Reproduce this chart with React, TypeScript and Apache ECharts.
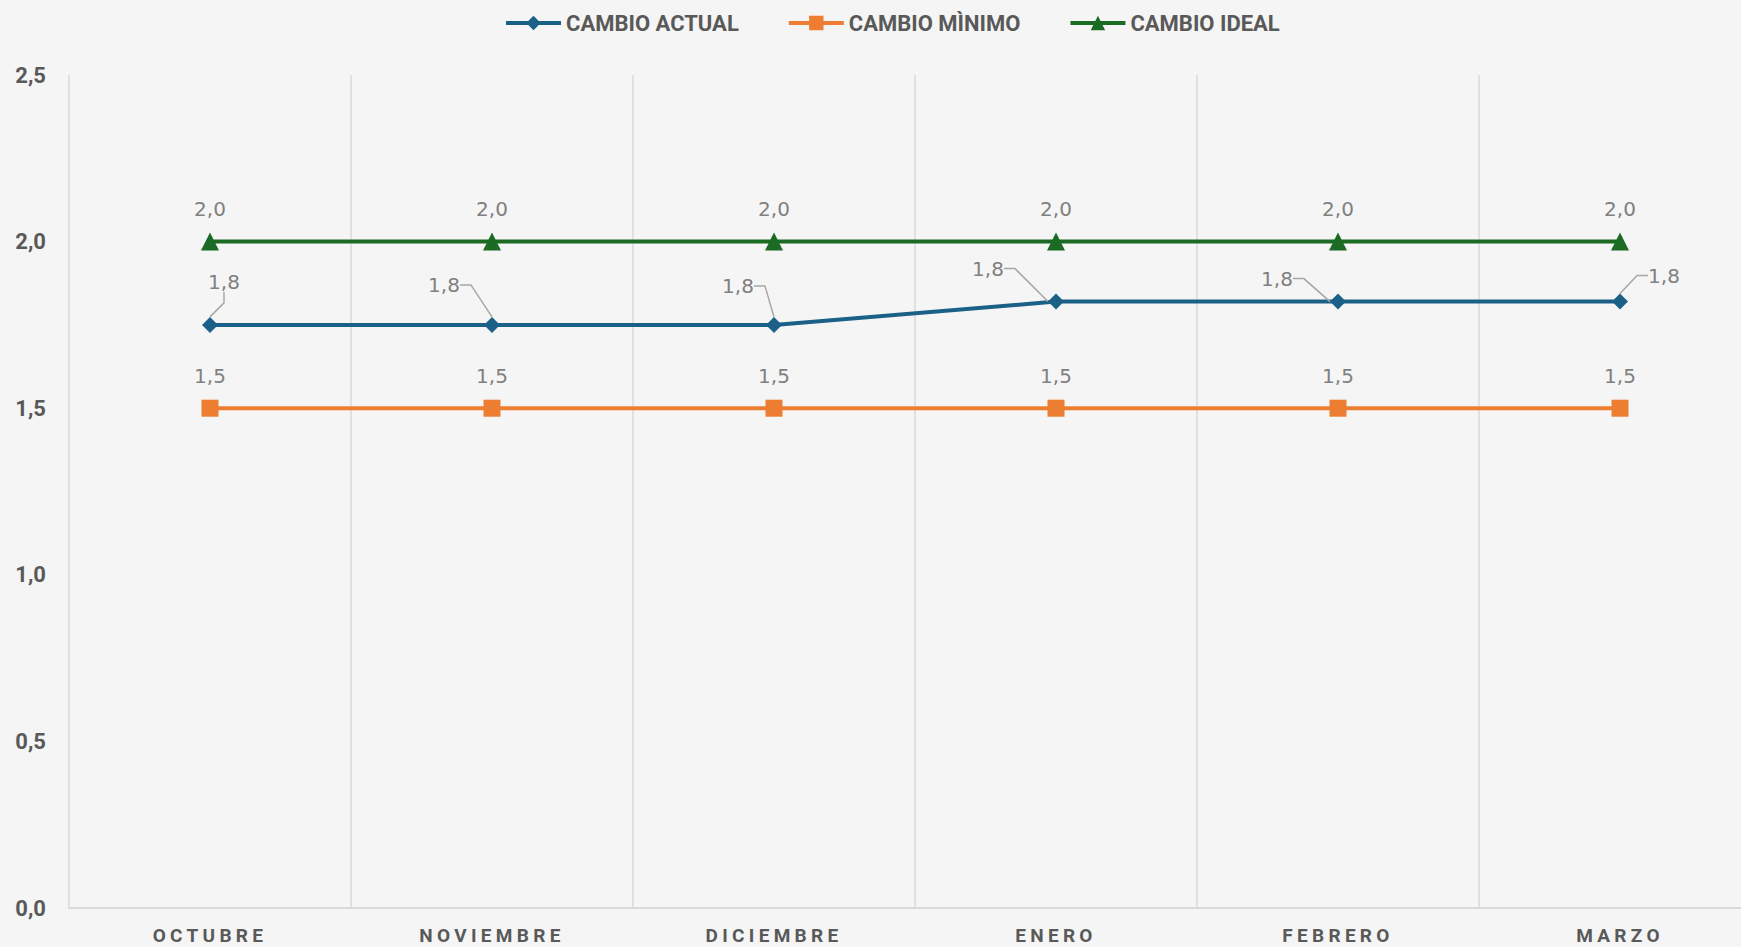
import React, { useEffect, useRef } from "react";
import * as echarts from "echarts";

const categories = ["OCTUBRE", "NOVIEMBRE", "DICIEMBRE", "ENERO", "FEBRERO", "MARZO"];
const cambioActual = [1.75, 1.75, 1.75, 1.82, 1.82, 1.82];
const cambioMinimo = [1.5, 1.5, 1.5, 1.5, 1.5, 1.5];
const cambioIdeal = [2.0, 2.0, 2.0, 2.0, 2.0, 2.0];
const seriesNames = ["CAMBIO ACTUAL", "CAMBIO MÌNIMO", "CAMBIO IDEAL"];
const yMin = 0;
const yMax = 2.5;
const yStep = 0.5;

// styling: label placement of the "actual" series (offsets from the marker, px)
const actualLabelOffsets = [[14, -43], [-48, -40], [-36, -39], [-68, -33], [-61, -23], [44, -26]];

const fmt = (v: number) => v.toFixed(1).replace(".", ",");

const BLUE = "#1b6187";
const ORANGE = "#ed7d31";
const GREEN = "#1c6b24";
const AXIS_TEXT = "#595959";
const LABEL_TEXT = "#808080";
const GRID = "#d9d9d9";

export default function App() {
  const ref = useRef<HTMLDivElement>(null);
  useEffect(() => {
    if (!ref.current) return;
    const chart = echarts.init(ref.current, null, { renderer: "svg" });
    const dataLabel = {
      show: true,
      position: "top",
      distance: 14,
      color: LABEL_TEXT,
      fontSize: 20,
      fontFamily: "DejaVu Sans",
      formatter: (p: any) => fmt(p.value),
    };
    const option = {
      animation: false,
      backgroundColor: "#f5f5f5",
      legend: {
        left: 499,
        top: 7,
        itemWidth: 55,
        itemHeight: 18,
        itemGap: 48,
        data: seriesNames,
        lineStyle: { width: 4 },
        textStyle: { fontSize: 22, fontWeight: "bold", color: AXIS_TEXT, fontFamily: "Roboto" },
      },
      grid: { left: 69, top: 75, width: 1692, height: 833, containLabel: false, outerBoundsMode: "none" },
      xAxis: {
        type: "category",
        data: categories,
        boundaryGap: true,
        axisTick: { show: false },
        axisLine: { lineStyle: { color: GRID, width: 2 } },
        splitLine: { show: true, lineStyle: { color: GRID, width: 1.5 } },
        axisLabel: { fontSize: 19, fontWeight: "bold", color: AXIS_TEXT, fontFamily: "Roboto", margin: 18 },
      },
      yAxis: {
        type: "value",
        min: yMin,
        max: yMax,
        interval: yStep,
        axisLine: { show: false },
        axisTick: { show: false },
        splitLine: { show: false },
        axisLabel: {
          fontSize: 22,
          fontWeight: "bold",
          color: AXIS_TEXT,
          fontFamily: "Roboto",
          margin: 23,
          formatter: (v: number) => fmt(v),
        },
      },
      series: [
        {
          name: seriesNames[0],
          type: "line",
          data: cambioActual,
          symbol: "diamond",
          symbolSize: 16,
          itemStyle: { color: BLUE },
          lineStyle: { color: BLUE, width: 4 },
          label: { ...dataLabel, padding: [0, 3] },
          labelLine: { show: true, length2: 11, minTurnAngle: 90, lineStyle: { color: "#a6a6a6", width: 1.5 } },
          labelLayout: (p: any) => {
            const i = p.dataIndex;
            const cx = p.rect.x + p.rect.width / 2;
            const cy = p.rect.y + p.rect.height / 2;
            const [dx, dy] = actualLabelOffsets[i];
            return { x: cx + dx, y: cy + dy, align: "center", verticalAlign: "middle" };
          },
          z: 3,
        },
        {
          name: seriesNames[1],
          type: "line",
          data: cambioMinimo,
          symbol: "rect",
          symbolSize: 17,
          itemStyle: { color: ORANGE },
          lineStyle: { color: ORANGE, width: 4 },
          label: { ...dataLabel },
          z: 2,
        },
        {
          name: seriesNames[2],
          type: "line",
          data: cambioIdeal,
          symbol: "triangle",
          symbolSize: 18,
          itemStyle: { color: GREEN },
          lineStyle: { color: GREEN, width: 4 },
          label: { ...dataLabel },
          z: 2,
        },
      ],
    };
    chart.setOption(option as any);
    const applySpacing = () => {
      if (!ref.current) return;
      ref.current.querySelectorAll("text").forEach((t) => {
        if (categories.includes((t.textContent || "").trim())) {
          (t as SVGTextElement).style.letterSpacing = "4.3px";
        }
      });
    };
    applySpacing();
    chart.on("finished", applySpacing);
    return () => chart.dispose();
  }, []);
  return (
    <div
      ref={ref}
      style={{ position: "fixed", left: 0, top: 0, width: 1741, height: 947, background: "#f5f5f5" }}
    />
  );
}
